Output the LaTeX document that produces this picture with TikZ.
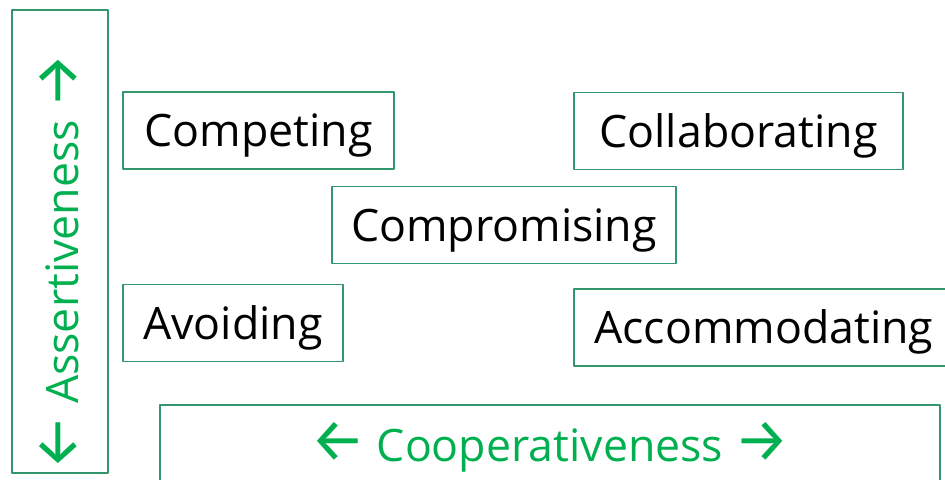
\documentclass[tikz,border=0pt]{standalone}
\usepackage{fontspec}
\setmainfont{Open Sans}
\newfontfamily\arrowfont{Fira Sans}
\newcommand{\bigarrow}[1]{{\arrowfont\fontsize{46}{46}\selectfont #1}}
\definecolor{framegreen}{RGB}{52,150,108}
\definecolor{labelgreen}{RGB}{0,176,80}
\begin{document}
\begin{tikzpicture}[x=0.75pt, y=-0.75pt, font=\fontsize{33.5}{40}\selectfont, line join=round,
		frame/.style={draw=framegreen, line width=1.4pt},
		modebox/.style={frame, anchor=west, inner xsep=13pt, text height=24pt, text depth=0pt, minimum height=57.75pt},
		axislabel/.style={text=labelgreen, text height=24pt, text depth=0pt}
		]
		\clip (0,0) rectangle (945,479);
		% the two axes
		\node[frame, minimum width=72pt, minimum height=347.25pt] (assert) at (60,241.5) {};
		\node[axislabel, rotate=90] (assertlbl) at (62,262) {\bigarrow{←} Assertiveness \bigarrow{→}};
		\node[frame, axislabel, minimum width=585pt, minimum height=60pt] (coop) at (550,445) {\bigarrow{←} Cooperativeness \bigarrow{→}};
		% the five modes
		\node[modebox, minimum width=203.25pt] (competing) at (122,130.5) {Competing};
		\node[modebox, minimum width=246.75pt] (collab) at (573,131) {Collaborating};
		\node[modebox, minimum width=258pt] (comprom) at (331,225) {Compromising};
		\node[modebox, minimum width=165pt] (avoiding) at (122,323) {Avoiding};
		\node[modebox, minimum width=285pt] (accomm) at (573,327.5) {Accommodating};
\end{tikzpicture}
\end{document}
